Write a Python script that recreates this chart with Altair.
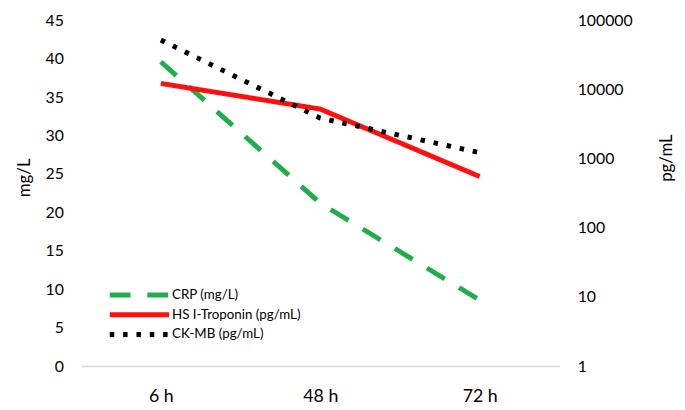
import altair as alt
import pandas as pd

times = ["6 h", "48 h", "72 h"]
series_names = ["CRP (mg/L)", "HS I-Troponin (pg/mL)", "CK-MB (pg/mL)"]
crp = [39.6, 21.2, 8.6]
troponin = [12200, 5200, 550]
ckmb = [51800, 3850, 1220]
left_ticks = [0, 5, 10, 15, 20, 25, 30, 35, 40, 45]
right_ticks = [1, 10, 100, 1000, 10000, 100000]

rows = []
for name, vals in zip(series_names, [crp, troponin, ckmb]):
    for t, v in zip(times, vals):
        rows.append({"time": t, "series": name, "value": v})
df = pd.DataFrame(rows)

FONT = "Lato"
colors = ["#1fae4b", "#ff1010", "#000000"]
dashes = [[21, 17], [1, 0], [4.5, 9]]

legend = alt.Legend(
    title=None, orient="none", legendX=49, legendY=268,
    symbolType="M-4,0H4", symbolSize=225, symbolStrokeWidth=5,
    labelFont=FONT, labelFontSize=13.5, labelColor="#000000",
    rowPadding=-0.5, labelOffset=23,
)

x_enc = alt.X("time:N", sort=times, scale=alt.Scale(type="point", padding=0.5),
              axis=alt.Axis(title=None, ticks=False, domainColor="#d9d9d9", domainWidth=1.5,
                            labelFont=FONT, labelFontSize=18, labelColor="#000000",
                            labelPadding=22, labelAngle=0))
color_enc = alt.Color("series:N", scale=alt.Scale(domain=series_names, range=colors), legend=legend)
dash_enc = alt.StrokeDash("series:N", scale=alt.Scale(domain=series_names, range=dashes), legend=legend)

base = alt.Chart(df).mark_line(strokeWidth=5).encode(x=x_enc, color=color_enc, strokeDash=dash_enc)

left = base.transform_filter(alt.datum.series == series_names[0]).encode(
    y=alt.Y("value:Q", scale=alt.Scale(domain=[0, 45], nice=False),
            axis=alt.Axis(title="mg/L", orient="left", values=left_ticks, grid=False, ticks=False,
                          domain=False, labelFont=FONT, labelFontSize=16, labelColor="#000000",
                          labelPadding=18, titleFont=FONT, titleFontSize=17, titleFontWeight="normal",
                          titleColor="#000000", titleX=-57, titleY=159, titleAngle=270,
                          titleAlign="center", titleBaseline="middle"))
)
right = base.transform_filter(alt.datum.series != series_names[0]).encode(
    y=alt.Y("value:Q", scale=alt.Scale(type="log", domain=[1, 100000], nice=False),
            axis=alt.Axis(title="pg/mL", orient="right", values=right_ticks, format="d", grid=False,
                          ticks=False, domain=False, labelFont=FONT, labelFontSize=16,
                          labelColor="#000000", labelPadding=18, titleFont=FONT, titleFontSize=17,
                          titleFontWeight="normal", titleColor="#000000", titleX=108, titleY=139,
                          titleAngle=270, titleAlign="center", titleBaseline="middle"))
)

chart = alt.layer(left, right).resolve_scale(y="independent").properties(
    width=484, height=350,
    padding={"left": 74, "top": 10, "right": 119, "bottom": 42},
    autosize=alt.AutoSizeParams(type="none"),
).configure_view(stroke=None)

chart.save("out.html", embed_options={"renderer": "svg", "actions": False})
